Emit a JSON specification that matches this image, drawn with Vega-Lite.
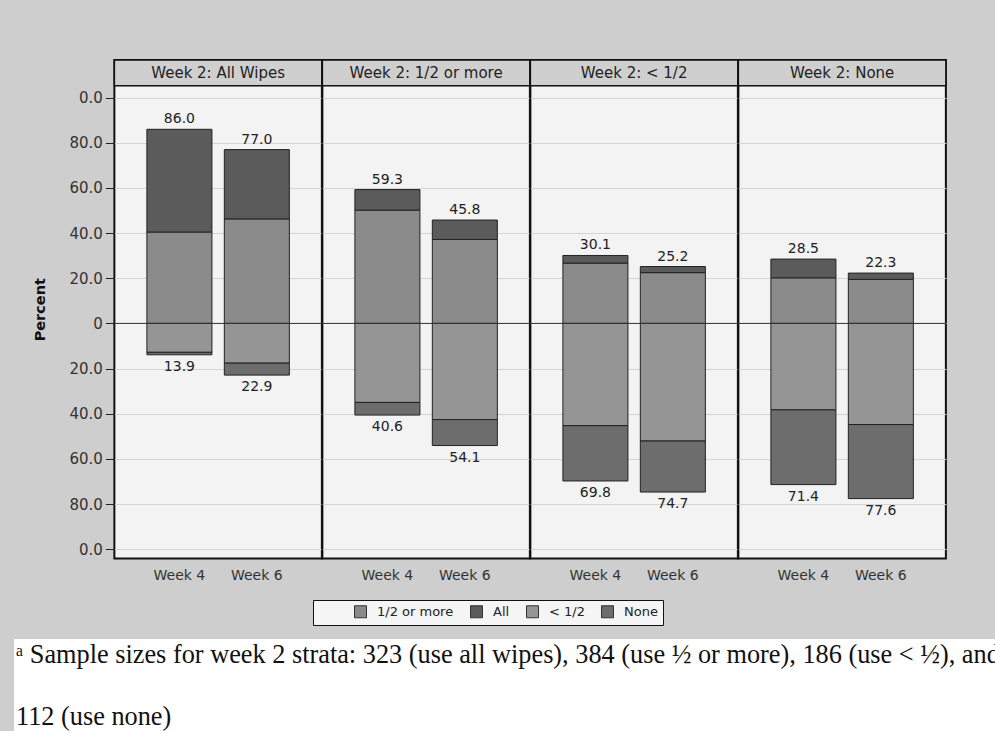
{
  "$schema": "https://vega.github.io/schema/vega-lite/v6.json",
  "padding": {"left": 12, "top": 58, "right": 0, "bottom": 0},
  "background": "#cecece",
  "config": {
    "font": "DejaVu Sans",
    "view": {"fill": "#f3f3f3", "stroke": "#111111", "strokeWidth": 2}
  },
  "datasets": {
    "bars": [
      {"panel": "Week 2: All Wipes", "week": "Week 4", "cat": "1/2 or more", "pct": 40.5},
      {"panel": "Week 2: All Wipes", "week": "Week 4", "cat": "All", "pct": 45.5},
      {"panel": "Week 2: All Wipes", "week": "Week 4", "cat": "< 1/2", "pct": -12.8},
      {"panel": "Week 2: All Wipes", "week": "Week 4", "cat": "None", "pct": -1.1},
      {"panel": "Week 2: All Wipes", "week": "Week 6", "cat": "1/2 or more", "pct": 46.3},
      {"panel": "Week 2: All Wipes", "week": "Week 6", "cat": "All", "pct": 30.7},
      {"panel": "Week 2: All Wipes", "week": "Week 6", "cat": "< 1/2", "pct": -17.6},
      {"panel": "Week 2: All Wipes", "week": "Week 6", "cat": "None", "pct": -5.3},
      {"panel": "Week 2: 1/2 or more", "week": "Week 4", "cat": "1/2 or more", "pct": 50.2},
      {"panel": "Week 2: 1/2 or more", "week": "Week 4", "cat": "All", "pct": 9.1},
      {"panel": "Week 2: 1/2 or more", "week": "Week 4", "cat": "< 1/2", "pct": -35.0},
      {"panel": "Week 2: 1/2 or more", "week": "Week 4", "cat": "None", "pct": -5.6},
      {"panel": "Week 2: 1/2 or more", "week": "Week 6", "cat": "1/2 or more", "pct": 37.2},
      {"panel": "Week 2: 1/2 or more", "week": "Week 6", "cat": "All", "pct": 8.6},
      {"panel": "Week 2: 1/2 or more", "week": "Week 6", "cat": "< 1/2", "pct": -42.6},
      {"panel": "Week 2: 1/2 or more", "week": "Week 6", "cat": "None", "pct": -11.5},
      {"panel": "Week 2: < 1/2", "week": "Week 4", "cat": "1/2 or more", "pct": 26.7},
      {"panel": "Week 2: < 1/2", "week": "Week 4", "cat": "All", "pct": 3.4},
      {"panel": "Week 2: < 1/2", "week": "Week 4", "cat": "< 1/2", "pct": -45.3},
      {"panel": "Week 2: < 1/2", "week": "Week 4", "cat": "None", "pct": -24.5},
      {"panel": "Week 2: < 1/2", "week": "Week 6", "cat": "1/2 or more", "pct": 22.5},
      {"panel": "Week 2: < 1/2", "week": "Week 6", "cat": "All", "pct": 2.7},
      {"panel": "Week 2: < 1/2", "week": "Week 6", "cat": "< 1/2", "pct": -52.1},
      {"panel": "Week 2: < 1/2", "week": "Week 6", "cat": "None", "pct": -22.6},
      {"panel": "Week 2: None", "week": "Week 4", "cat": "1/2 or more", "pct": 20.2},
      {"panel": "Week 2: None", "week": "Week 4", "cat": "All", "pct": 8.3},
      {"panel": "Week 2: None", "week": "Week 4", "cat": "< 1/2", "pct": -38.3},
      {"panel": "Week 2: None", "week": "Week 4", "cat": "None", "pct": -33.1},
      {"panel": "Week 2: None", "week": "Week 6", "cat": "1/2 or more", "pct": 19.5},
      {"panel": "Week 2: None", "week": "Week 6", "cat": "All", "pct": 2.8},
      {"panel": "Week 2: None", "week": "Week 6", "cat": "< 1/2", "pct": -44.8},
      {"panel": "Week 2: None", "week": "Week 6", "cat": "None", "pct": -32.8}
    ],
    "notes": [
      {"line": 1, "text": "ᵃ Sample sizes for week 2 strata: 323 (use all wipes), 384 (use ½ or more), 186 (use < ½), and"},
      {"line": 2, "text": "112 (use none)"}
    ]
  },
  "concat": [
    {
      "data": {"name": "bars"},
      "facet": {
        "column": {
          "field": "panel",
          "type": "nominal",
          "sort": ["Week 2: All Wipes", "Week 2: 1/2 or more", "Week 2: < 1/2", "Week 2: None"],
          "header": {"labels": false, "title": null}
        }
      },
      "spacing": {"column": 0},
      "bounds": "flush",
      "spec": {
        "width": 207.5,
        "height": 498.4,
        "layer": [
          {
            "transform": [{"filter": "datum.week == 'Week 4' && datum.cat == 'All'"}],
            "mark": {"type": "rect", "fill": "#cfcfcf", "stroke": "#111111", "strokeWidth": 1.5},
            "encoding": {
              "x": {"value": 0},
              "x2": {"value": "width"},
              "y": {"datum": 105.3},
              "y2": {"datum": 116.7}
            }
          },
          {
            "mark": {"type": "bar", "stroke": "#222222", "strokeWidth": 1},
            "encoding": {
              "x": {
                "field": "week",
                "type": "nominal",
                "title": null,
                "scale": {"paddingInner": 0.16, "paddingOuter": 0.42},
                "axis": {"labelFontSize": 14, "ticks": false, "domain": false, "labelPadding": 9, "labelAngle": 0, "labelColor": "#333333"}
              },
              "y": {
                "field": "pct",
                "type": "quantitative",
                "stack": "zero",
                "title": [" ", "Percent"],
                "scale": {"domain": [-104.1, 116.7], "nice": false, "zero": false},
                "axis": {
                  "values": [-100, -80, -60, -40, -20, 0, 20, 40, 60, 80, 100],
                  "labelExpr": "datum.value == 0 ? '0' : format(abs(datum.value) % 100, '.1f')",
                  "grid": true,
                  "gridColor": "#d4d4d4",
                  "tickSize": 9,
                  "tickColor": "#222222",
                  "labelPadding": 3,
                  "labelFontSize": 15,
                  "labelColor": "#333333",
                  "titleFontSize": 14.5,
                  "titleFontWeight": "bold",
                  "titleColor": "#111111",
                  "titleLineHeight": 20,
                  "titlePadding": 21,
                  "domain": false
                }
              },
              "color": {
                "field": "cat",
                "type": "nominal",
                "scale": {
                  "domain": ["1/2 or more", "All", "< 1/2", "None"],
                  "range": ["#8b8b8b", "#5b5b5b", "#959595", "#6d6d6d"]
                },
                "legend": {
                  "orient": "none",
                  "legendX": 299,
                  "legendY": 540,
                  "direction": "horizontal",
                  "title": " ",
                  "titleOrient": "left",
                  "titlePadding": 36,
                  "symbolType": "square",
                  "symbolSize": 144,
                  "symbolStrokeColor": "#333333",
                  "symbolStrokeWidth": 1,
                  "labelFontSize": 13,
                  "labelOffset": 10,
                  "labelColor": "#222222",
                  "columnPadding": 14,
                  "padding": 5,
                  "fillColor": "#f5f5f5",
                  "strokeColor": "#111111"
                }
              },
              "order": {"field": "cat", "sort": "ascending"}
            }
          },
          {
            "transform": [{"filter": "datum.week == 'Week 4' && datum.cat == 'All'"}],
            "mark": {"type": "rule", "color": "#333333", "strokeWidth": 1},
            "encoding": {"y": {"datum": 0}}
          },
          {
            "transform": [
              {"filter": "datum.pct > 0"},
              {"aggregate": [{"op": "sum", "field": "pct", "as": "total"}], "groupby": ["panel", "week"]}
            ],
            "mark": {"type": "text", "baseline": "bottom", "dy": -3, "fontSize": 14, "color": "#222222"},
            "encoding": {
              "x": {"field": "week", "type": "nominal"},
              "y": {"field": "total", "type": "quantitative"},
              "text": {"field": "total", "type": "quantitative", "format": ".1f"}
            }
          },
          {
            "transform": [
              {"filter": "datum.pct < 0"},
              {"aggregate": [{"op": "sum", "field": "pct", "as": "total"}], "groupby": ["panel", "week"]},
              {"calculate": "abs(datum.total)", "as": "shown"}
            ],
            "mark": {"type": "text", "baseline": "top", "dy": 5, "fontSize": 14, "color": "#222222"},
            "encoding": {
              "x": {"field": "week", "type": "nominal"},
              "y": {"field": "total", "type": "quantitative"},
              "text": {"field": "shown", "type": "quantitative", "format": ".1f"}
            }
          },
          {
            "transform": [{"filter": "datum.week == 'Week 4' && datum.cat == 'All'"}],
            "mark": {"type": "text", "baseline": "middle", "align": "center", "fontSize": 15, "color": "#222222"},
            "encoding": {
              "x": {"datum": "Week 4", "bandPosition": 1.0952},
              "y": {"datum": 111},
              "text": {"field": "panel"}
            }
          }
        ]
      }
    },
    {
      "data": {"name": "notes"},
      "width": 1034,
      "height": 94,
      "view": {"fill": "white", "stroke": null},
      "mark": {"type": "text", "align": "left", "baseline": "middle", "font": "Liberation Serif", "fontSize": 26.3, "color": "#111111", "dx": 2},
      "encoding": {
        "x": {"value": 0},
        "y": {"field": "line", "type": "ordinal", "axis": null, "scale": {"type": "point", "padding": 0.26}},
        "text": {"field": "text"}
      }
    }
  ],
  "columns": 1,
  "center": true,
  "spacing": {"row": 57, "column": 0}
}
